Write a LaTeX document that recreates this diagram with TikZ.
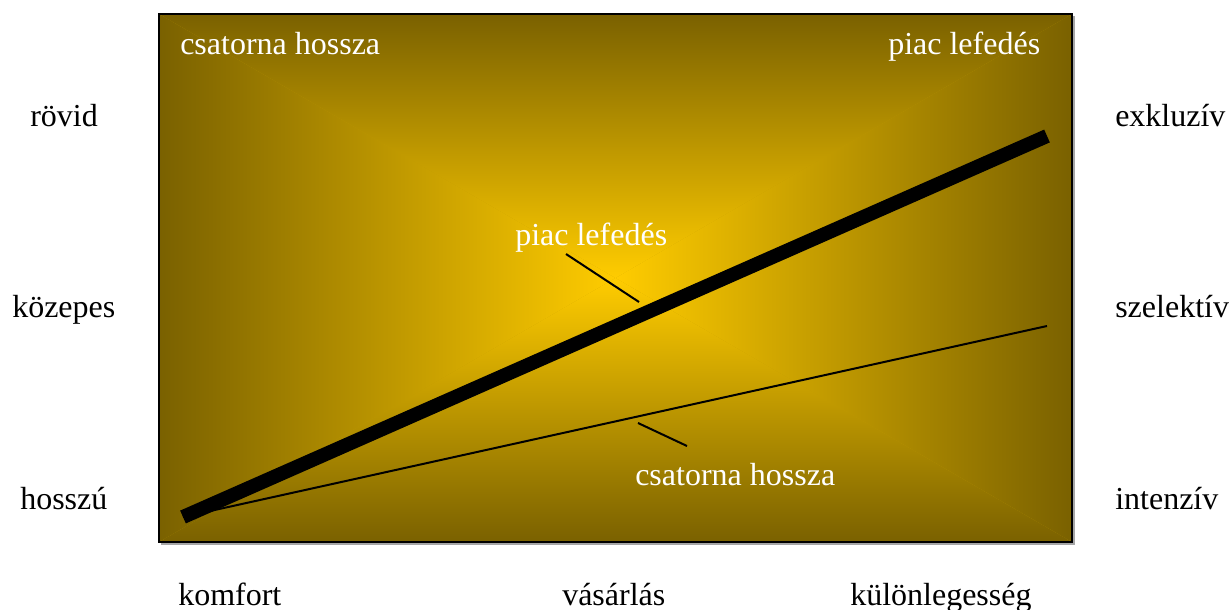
\documentclass[tikz,border=0pt]{standalone}
\usepackage{fontspec}
\setmainfont{Liberation Serif}
\definecolor{edgeolive}{RGB}{122,97,0}
\definecolor{midgold}{RGB}{255,204,0}
\begin{document}
\begin{tikzpicture}[x=0.75pt, y=-0.75pt,
    lbl/.style={anchor=base west, inner sep=0pt, font=\fontsize{24}{28}\selectfont},
    wlbl/.style={lbl, text=white}]
    \useasboundingbox (0,0) rectangle (1231,610);

    % rectangular gradient, one triangle per side
    \coordinate (c) at (615.5,278);
    \fill[edgeolive!45!midgold] (159,14) rectangle (1072,542);
    \shade[top color=edgeolive, bottom color=midgold] (159,14) -- (1072,14) -- (c) -- cycle;
    \shade[top color=midgold, bottom color=edgeolive] (159,542) -- (1072,542) -- (c) -- cycle;
    \shade[left color=edgeolive, right color=midgold] (159,14) -- (159,542) -- (c) -- cycle;
    \shade[left color=midgold, right color=edgeolive] (1072,14) -- (1072,542) -- (c) -- cycle;
    \draw[black!35, line width=1.5pt] (161,544) -- (1074,544) -- (1074,16);
    \draw[line width=1.5pt] (159,14) rectangle (1072,542);

    \node[wlbl] (tl) at (180,55) {csatorna hossza};
    \node[wlbl] (tr) at (888,55) {piac lefedés};

    \node[lbl] (rovid) at (30,126) {rövid};
    \node[lbl] (kozepes) at (12,317) {közepes};
    \node[lbl] (hosszu) at (20,509) {hosszú};
    \node[lbl] (exkluziv) at (1115,126) {exkluzív};
    \node[lbl] (szelektiv) at (1115,317) {szelektív};
    \node[lbl] (intenziv) at (1115,509) {intenzív};
    \node[lbl] (komfort) at (178,605) {komfort};
    \node[lbl] (vasarlas) at (562,605) {vásárlás};
    \node[lbl] (kulonleges) at (850,605) {különlegesség};

    \node[wlbl] (piac) at (515,245) {piac lefedés};
    \node[wlbl] (csat) at (635,485) {csatorna hossza};

    \coordinate (start) at (183,517);
    \coordinate (piacend) at (1047,136);
    \coordinate (csatend) at (1047,326);
    \draw[line width=1.5pt] (start) -- (csatend);
    \draw[line width=10.5pt] (start) -- (piacend);

    \coordinate (p1) at (566,254);
    \coordinate (p2) at (639,302);
    \coordinate (q1) at (638,423);
    \coordinate (q2) at (687,446);
    \draw[line width=1.5pt] (p1) -- (p2);
    \draw[line width=1.5pt] (q1) -- (q2);
\end{tikzpicture}
\end{document}
